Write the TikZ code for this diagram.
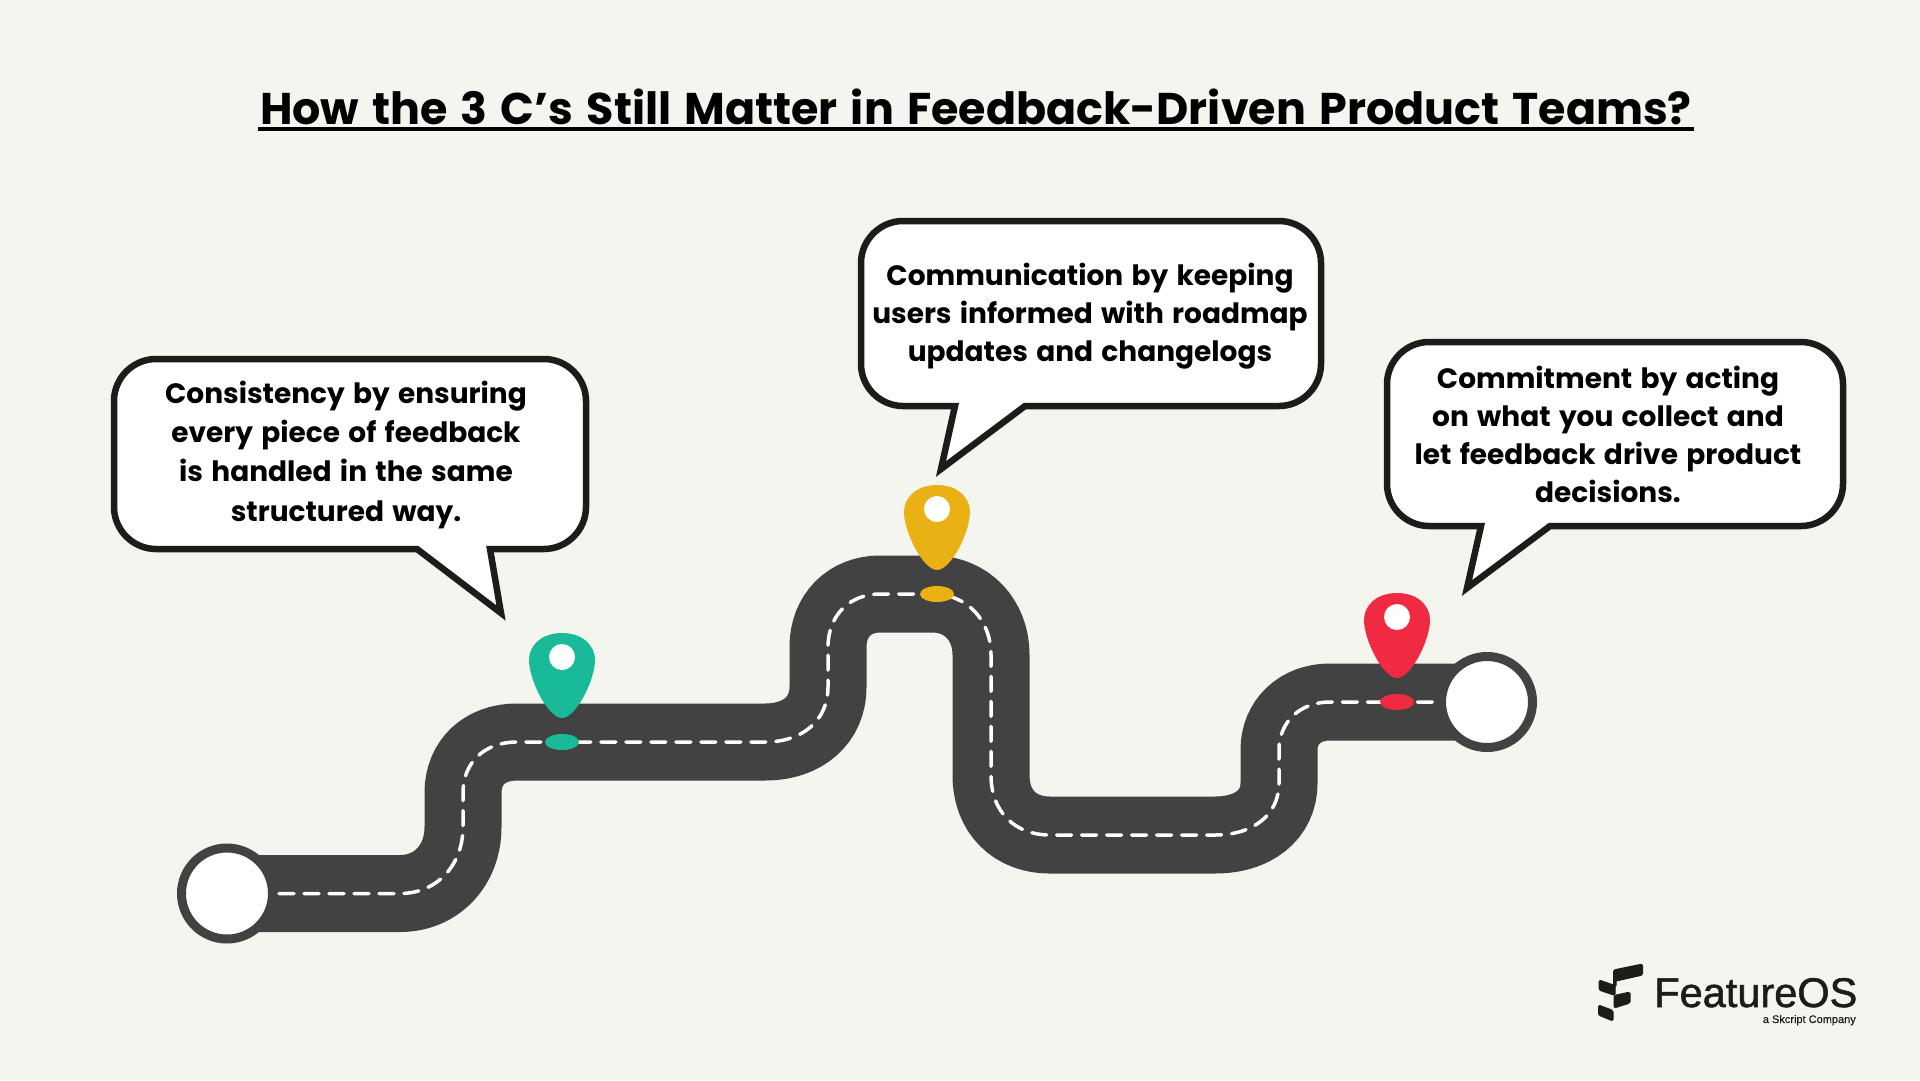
\documentclass[tikz,border=0pt]{standalone}
\usepackage{fontspec}
\setmainfont{Poppins}
\newfontfamily\titlefont[WordSpace=1.27]{Poppins}
\newfontfamily\bubblefont[WordSpace=1.4]{Poppins}
\newfontfamily\logofont[FakeBold=1.3]{Liberation Sans}
\newfontfamily\logosubfont[FakeBold=0.3]{Liberation Sans}
\usetikzlibrary{shapes.geometric}
\definecolor{bgc}{HTML}{F4F5EF}
\definecolor{roadc}{HTML}{424242}
\definecolor{inkc}{HTML}{1C1C1A}
\definecolor{tealc}{HTML}{19BA9A}
\definecolor{yellowc}{HTML}{E9B114}
\definecolor{redc}{HTML}{EF2A41}
\tikzset{
  bubble/.style={draw=inkc,fill=white,line width=6.5pt,line join=miter,miter limit=20},
  bubbletext/.style={align=center,text=black,inner sep=0pt,anchor=base},
  roadline/.style={draw=roadc,line width=77pt},
  laneline/.style={draw=white,line width=3.5pt,line cap=round,dash pattern=on 15pt off 10pt},
  endcap/.style={circle,draw=roadc,fill=white,line width=9pt,minimum size=91pt,inner sep=0pt},
  pinhole/.style={circle,fill=white,minimum size=26pt,inner sep=0pt},
  pinbase/.style={ellipse,minimum width=34pt,minimum height=16pt,inner sep=0pt},
  logoshape/.style={fill=inkc,draw=inkc,line width=1pt,line join=round,rounded corners=1.5pt}
}
\newcommand{\mypin}[3]{%
  \fill[#3] (#1,#2-109) .. controls (#1+20,#2-109) and (#1+33,#2-97) .. (#1+33,#2-82)
     .. controls (#1+33,#2-62) and (#1+14,#2-24) .. (#1,#2-24)
     .. controls (#1-14,#2-24) and (#1-33,#2-62) .. (#1-33,#2-82)
     .. controls (#1-33,#2-97) and (#1-20,#2-109) .. (#1,#2-109) -- cycle;
}
\newcommand{\roadpath}[2]{%
  (#1) -- (400,893.5) .. controls (437,893.5) and (463,865) .. (463,827) -- (463,793)
  .. controls (463,762) and (485,742) .. (517,742) -- (765,742)
  .. controls (803,742) and (828,720) .. (828,687) -- (828,647)
  .. controls (828,615) and (850,594) .. (880,594) -- (932,594)
  .. controls (967,594) and (991,620) .. (991,655) -- (991,775)
  .. controls (991,812) and (1015,835) .. (1050,835) -- (1215,835)
  .. controls (1253,835) and (1279,815) .. (1279,783) -- (1279,750)
  .. controls (1279,722) and (1300,702) .. (1330,702) -- (#2)
}
\begin{document}
\begin{tikzpicture}[x=1pt,y=-1pt]
\useasboundingbox (0,0) rectangle (1920,1080);
\fill[bgc] (0,0) rectangle (1920,1080);
\node[font=\titlefont\bfseries\fontsize{44.4}{50}\selectfont,inner sep=0pt,anchor=base] (title) at (976,124) {How the 3 C’s Still Matter in Feedback-Driven Product Teams?};
\coordinate (ulA) at (258,128.5);
\coordinate (ulB) at (1694,128.5);
\draw[black,line width=4pt] (ulA) -- (ulB);
% road
\coordinate (roadA) at (227,893.5);
\coordinate (roadB) at (1487,702);
\coordinate (laneA) at (279,893.5);
\coordinate (laneB) at (1436,702);
\draw[roadline] \roadpath{roadA}{roadB};
\draw[laneline] \roadpath{laneA}{laneB};
\node[endcap] (startcap) at (roadA) {};
\node[endcap] (endcap) at (roadB) {};
% pins
\mypin{562}{742}{tealc}
\node[pinhole] (pinholeA) at (562,657) {};
\node[pinbase,fill=tealc] (pinbaseA) at (562,742) {};
\mypin{937}{594}{yellowc}
\node[pinhole] (pinholeB) at (937,509) {};
\node[pinbase,fill=yellowc] (pinbaseB) at (937,594) {};
\mypin{1397}{702}{redc}
\node[pinhole] (pinholeC) at (1397,617) {};
\node[pinbase,fill=redc] (pinbaseC) at (1397,702) {};
% bubbles
\draw[bubble] (490,549) -- (544,549) .. controls (567,549) and (586,530) .. (586,507) -- (586,401) .. controls (586,378) and (567,359) .. (544,359) -- (156,359) .. controls (133,359) and (114,378) .. (114,401) -- (114,507) .. controls (114,530) and (133,549) .. (156,549) -- (417,549) -- (501,613) -- cycle;
\draw[bubble] (955,406) -- (903,406) .. controls (880,406) and (861,387) .. (861,364) -- (861,263) .. controls (861,240) and (880,221) .. (903,221) -- (1279,221) .. controls (1302,221) and (1321,240) .. (1321,263) -- (1321,364) .. controls (1321,387) and (1302,406) .. (1279,406) -- (1025,406) -- (941,469) -- cycle;
\draw[bubble] (1481,526) -- (1429,526) .. controls (1406,526) and (1387,507) .. (1387,484) -- (1387,384) .. controls (1387,361) and (1406,342) .. (1429,342) -- (1801,342) .. controls (1824,342) and (1843,361) .. (1843,384) -- (1843,484) .. controls (1843,507) and (1824,526) .. (1801,526) -- (1550,526) -- (1467,588) -- cycle;
\node[bubbletext,font=\bubblefont\bfseries\fontsize{28}{39.3}\selectfont] (textA) at (346,521) {Consistency by ensuring\\every piece of feedback\\is handled in the same\\structured way.};
\node[bubbletext,font=\bubblefont\bfseries\fontsize{28}{38}\selectfont] (textB) at (1090,361) {Communication by keeping\\users informed with roadmap\\updates and changelogs};
\node[bubbletext,font=\bubblefont\bfseries\fontsize{28}{37.7}\selectfont] (textC) at (1608,502) {Commitment by acting\\on what you collect and\\let feedback drive product\\decisions.};
% logo
\draw[logoshape] (1613.5,970) -- (1642.5,964) -- (1642.5,975) -- (1614,981.5) -- cycle;
\draw[logoshape] (1599,980) -- (1615,985.5) -- (1615,995.5) -- (1599,990) -- cycle;
\draw[logoshape] (1614,995.5) -- (1630,992) -- (1630,1003) -- (1614,1008) -- cycle;
\draw[logoshape] (1598.5,1005) -- (1613,1010.5) -- (1613,1021) -- (1598.5,1015) -- cycle;
\draw[logoshape] (1613.5,975) -- (1616,975) -- (1616,987) -- (1613.5,987) -- cycle;
\node[font=\logofont\fontsize{41.5}{42}\selectfont,text=inkc,anchor=base east,inner sep=0pt] (logoname) at (1857.5,1007) {FeatureOS};
\node[font=\logosubfont\fontsize{11}{11}\selectfont,text=inkc,anchor=base east,inner sep=0pt] (logosub) at (1856,1023) {a Skcript Company};
\end{tikzpicture}
\end{document}
